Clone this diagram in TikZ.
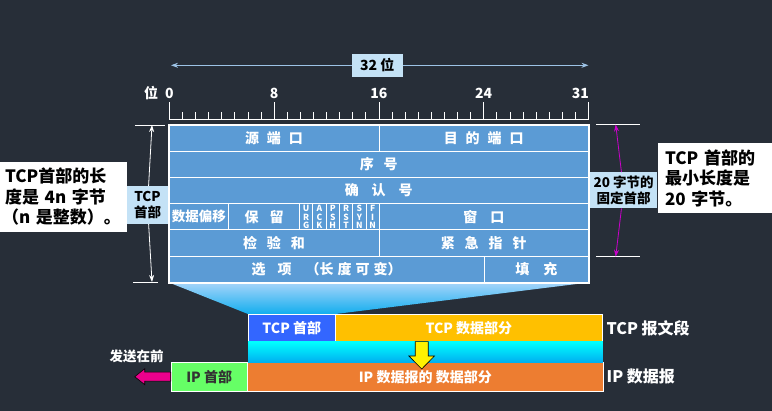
\documentclass[tikz,border=0pt]{standalone}
\usepackage{fontspec}
\setmainfont{Noto Sans CJK SC}
\usetikzlibrary{arrows.meta}
\definecolor{bgcol}{HTML}{272E38}
\definecolor{tabblue}{HTML}{5B9BD5}
\definecolor{tagblue}{HTML}{C4E2F6}
\definecolor{dimblue}{HTML}{9DC3E6}
\definecolor{dimpink}{HTML}{CC00CC}
\definecolor{hdrblue}{HTML}{3366FF}
\definecolor{datagold}{HTML}{FFC000}
\definecolor{iporange}{HTML}{ED7D31}
\definecolor{ipgreen}{HTML}{66FF66}
\definecolor{traptop}{HTML}{A6D4FA}
\definecolor{trapbot}{HTML}{12AEEE}
\definecolor{bandtop}{HTML}{00FFFF}
\definecolor{bandbot}{HTML}{00B0F0}

\begin{document}
\begin{tikzpicture}[x=1pt,y=-1pt]
    \tikzset{cell/.style={draw=white, line width=1pt, fill=tabblue, text=white, inner sep=0pt, outer sep=0pt, minimum height=26.25pt, font=\bfseries\fontsize{14}{16}\selectfont},
             flag/.style={cell, minimum width=13.3pt, align=center, font=\bfseries\fontsize{8.5}{8.5}\selectfont},
             tag/.style={fill=tagblue, text=black, inner sep=0pt, align=center, font=\bfseries\fontsize{13.5}{16}\selectfont},
             note/.style={fill=white, text=black, align=left, inner ysep=0pt, minimum height=70pt, font=\bfseries\fontsize{17}{20.5}\selectfont},
             seg/.style={draw=white, line width=0.6pt, text=white, inner sep=0pt, minimum height=27.4pt, font=\bfseries\fontsize{14}{16}\selectfont},
             side/.style={text=white, inner sep=0pt, anchor=west, font=\bfseries\fontsize{16}{18}\selectfont},
             scalelabel/.style={text=white, inner sep=0pt, font=\bfseries\fontsize{14}{16}\selectfont},
             tick/.style={white, line width=0.8pt},
             dim/.style={-{Stealth[length=7pt,width=5pt]}, line width=0.8pt}}
    \fill[bgcol] (0,0) rectangle (772,411);
    \useasboundingbox (0,0) rectangle (772,411);

    \node[tag, minimum width=50.7pt, minimum height=22.7pt, font=\bfseries\fontsize{14}{16}\selectfont] (bits) at (377.3,65.3) {32 位};
    \coordinate (bl) at (171,65.3);
    \coordinate (br) at (588.5,65.3);
    \draw[dim, dimblue] (bits) -- (bl);
    \draw[dim, dimblue] (bits) -- (br);

    \draw[tick] (169.3,119) -- (588.5,119);
    \foreach \i in {0,...,32}
        \draw[tick] ({169.3+13.1*\i},119) -- ++(0,-7);
    \foreach \i in {0,8,16,24,32}
        \draw[tick] ({169.3+13.1*\i},119) -- ++(0,-17);
    \foreach \i in {0,8,16,24}
        \node[scalelabel] (b\i) at ({169.3+13.1*\i},93.3) {\i};
    \node[scalelabel, anchor=east] (b31) at (589,93.3) {31};
    \node[scalelabel] (unit) at (151,93.3) {位};

    \node[cell, minimum width=210pt] (src) at (274,138.1) {源\hspace{8pt}端\hspace{8pt}口};
    \node[cell, minimum width=209.5pt] (dst) at (483.75,138.1) {目\hspace{8pt}的\hspace{8pt}端\hspace{8pt}口};
    \node[cell, minimum width=419.5pt] (seq) at (378.75,164.4) {序\hspace{10pt}号};
    \node[cell, minimum width=419.5pt] (ack) at (378.75,190.6) {确\hspace{13pt}认\hspace{13pt}号};
    \node[cell, minimum width=59.7pt, font=\bfseries\fontsize{13.5}{16}\selectfont] (off) at (198.85,216.9) {数据偏移};
    \node[cell, minimum width=70.8pt] (rsv) at (264.1,216.9) {保\hspace{11pt}留};
    \foreach \f [count=\k from 0] in {U\\R\\G, A\\C\\K, P\\S\\H, R\\S\\T, S\\Y\\N, F\\I\\N}
        \node[flag] (flag\k) at ({306.15+13.3*\k},216.9) {\f};
    \node[cell, minimum width=209.2pt] (win) at (483.9,216.9) {窗\hspace{13pt}口};
    \node[cell, minimum width=210pt] (chk) at (274,243.1) {检\hspace{10pt}验\hspace{10pt}和};
    \node[cell, minimum width=209.5pt] (urg) at (483.75,243.1) {紧\hspace{10pt}急\hspace{10pt}指\hspace{10pt}针};
    \node[cell, minimum width=315.3pt] (opt) at (326.65,269.4) {选\hspace{12pt}项\hspace{14pt}（长\hspace{4pt}度\hspace{4pt}可\hspace{4pt}变）};
    \node[cell, minimum width=104.2pt] (pad) at (536.4,269.4) {填\hspace{14pt}充};

    \node[seg, fill=hdrblue, minimum width=87pt] (tcph) at (291.8,328) {TCP 首部};
    \node[seg, fill=datagold, minimum width=267.2pt] (tcpd) at (468.9,328) {TCP 数据部分};
    \node[seg, fill=ipgreen, text=black!80, minimum width=76.3pt, minimum height=28.7pt] (iph) at (209.2,376.7) {IP 首部};
    \node[seg, fill=iporange, minimum width=356pt, minimum height=28.7pt] (ipd) at (425.3,376.7) {IP 数据报的 数据部分};
    \node[side] (seglbl) at (606.5,328) {TCP 报文段};
    \node[side] (iplbl) at (606.5,376.5) {IP 数据报};
    \node[text=white, inner sep=0pt, font=\bfseries\fontsize{13.5}{16}\selectfont] (first) at (136.7,356.7) {发送在前};

    \shade[top color=traptop, bottom color=trapbot] (opt.south west) -- (pad.south east) -- (tcph.north east) -- (tcph.north west) -- cycle;
    \draw[white, line width=2pt] (src.north west) rectangle (pad.south east);
    \shade[top color=bandtop, bottom color=bandbot] (tcph.south west) rectangle (tcpd.south east |- ipd.north);

    \coordinate (dn) at (421.7,341.7);
    \draw[fill=yellow, draw=black, line width=0.6pt] (dn) ++(-6.5,0) -- ++(13,0) -- ++(0,14.3) -- ++(6.3,0) -- ++(-12.8,13) -- ++(-12.8,-13) -- ++(6.3,0) -- cycle;
    \coordinate (snd) at (iph.west);
    \draw[fill=magenta, draw=black, line width=0.6pt] (snd) ++(0,-4.5) -- ++(-26,0) -- ++(0,-3.5) -- ++(-10,8) -- ++(10,8) -- ++(0,-3.5) -- ++(26,0) -- cycle;

    \coordinate (lt) at (152,125);
    \coordinate (lb) at (152,282);
    \draw[tick] (135,125) -- (165,125);
    \draw[tick] (133,282) -- (158,282);
    \node[tag, minimum width=41pt, minimum height=38pt] (hdr) at (147.5,205) {TCP\\首部};
    \draw[dim, white] (hdr) -- (lt);
    \draw[dim, white] (hdr) -- (lb);
    \node[note, minimum width=126.7pt, text width=122.7pt, inner xsep=2pt] (lnote) at (63.35,197) {\hspace{3pt}TCP首部的长\\\hspace{3pt}度是 4n 字节\\（n 是整数）。};

    \coordinate (mt) at (615.7,124.5);
    \coordinate (mb) at (615.7,256.7);
    \draw[tick] (596,124.5) -- (640,124.5);
    \draw[tick] (596,256.7) -- (640,256.7);
    \node[tag, minimum width=67.3pt, minimum height=36pt, font=\bfseries\fontsize{13.5}{15.5}\selectfont] (fix) at (623.65,190.3) {20 字节的\\固定首部};
    \draw[dim, dimpink] (fix) -- (mt);
    \draw[dim, dimpink] (fix) -- (mb);
    \node[note, minimum width=113.7pt, text width=100.3pt, inner xsep=6.7pt] (rnote) at (715.15,178.3) {TCP 首部的\\最小长度是\\20 字节。};
\end{tikzpicture}
\end{document}
